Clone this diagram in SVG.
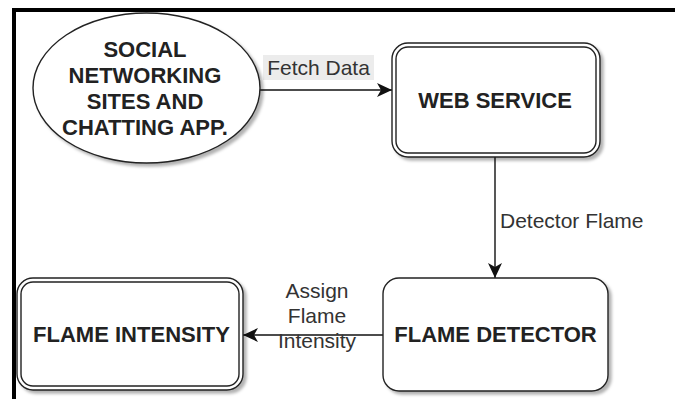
<svg xmlns="http://www.w3.org/2000/svg" width="675" height="399" viewBox="0 0 675 399">
  <defs>
    <filter id="shadow" x="-10%" y="-10%" width="130%" height="130%">
      <feDropShadow dx="3" dy="3" stdDeviation="1.5" flood-color="#000" flood-opacity="0.3"/>
    </filter>
    <marker id="arrow" viewBox="0 0 16 16" refX="15" refY="8" markerWidth="16" markerHeight="16" markerUnits="userSpaceOnUse" orient="auto">
      <path d="M15,8 L0,1 L4,8 L0,15 Z" fill="#111"/>
    </marker>
  </defs>
  <style>
    .node { fill: #fff; stroke: #222; stroke-width: 1.4; }
    .inner { fill: none; stroke: #222; stroke-width: 1.4; }
    .ntext { font-family: "Liberation Sans", Arial, sans-serif; font-size: 22px; font-weight: bold; fill: #222; text-anchor: middle; }
    .ltext { font-family: "Liberation Sans", Arial, sans-serif; font-size: 21px; fill: #333; }
    .edge { fill: none; stroke: #111; stroke-width: 1.4; marker-end: url(#arrow); }
  </style>

  <rect x="0" y="0" width="675" height="399" fill="#fff"/>
  <!-- outer frame -->
  <path d="M14,399 V10 H675" fill="none" stroke="#000" stroke-width="4"/>

  <g id="connectors">
    <path class="edge" d="M260,90 H392"/>
    <path class="edge" d="M495,157 V278"/>
    <path class="edge" d="M383,335 H243"/>
    <rect x="263" y="55" width="111" height="25" fill="#ececec"/>
    <text class="ltext" x="318.5" y="75" text-anchor="middle">Fetch Data</text>
    <text class="ltext" x="500" y="228">Detector Flame</text>
    <text class="ltext" x="317" y="298" text-anchor="middle">Assign</text>
    <text class="ltext" x="317" y="323" text-anchor="middle">Flame</text>
    <text class="ltext" x="317" y="348" text-anchor="middle">Intensity</text>
  </g>

  <g id="social">
    <ellipse class="node" cx="146.5" cy="88" rx="113.5" ry="75" filter="url(#shadow)"/>
    <text class="ntext" x="145" y="57">SOCIAL</text>
    <text class="ntext" x="145" y="83">NETWORKING</text>
    <text class="ntext" x="145" y="109">SITES AND</text>
    <text class="ntext" x="145" y="135">CHATTING APP.</text>
  </g>

  <g id="web-service">
    <rect class="node" x="392" y="43" width="208" height="114" rx="16" filter="url(#shadow)"/>
    <rect class="inner" x="396" y="47" width="200" height="106" rx="12"/>
    <text class="ntext" x="495" y="108">WEB SERVICE</text>
  </g>

  <g id="flame-detector">
    <rect class="node" x="383" y="278" width="225" height="113" rx="16" filter="url(#shadow)"/>
    <text class="ntext" x="495.5" y="342">FLAME DETECTOR</text>
  </g>

  <g id="flame-intensity">
    <rect class="node" x="17" y="278" width="226" height="112" rx="16" filter="url(#shadow)"/>
    <rect class="inner" x="21" y="282" width="218" height="104" rx="12"/>
    <text class="ntext" x="131.5" y="342" textLength="197" lengthAdjust="spacingAndGlyphs">FLAME INTENSITY</text>
  </g>
</svg>
